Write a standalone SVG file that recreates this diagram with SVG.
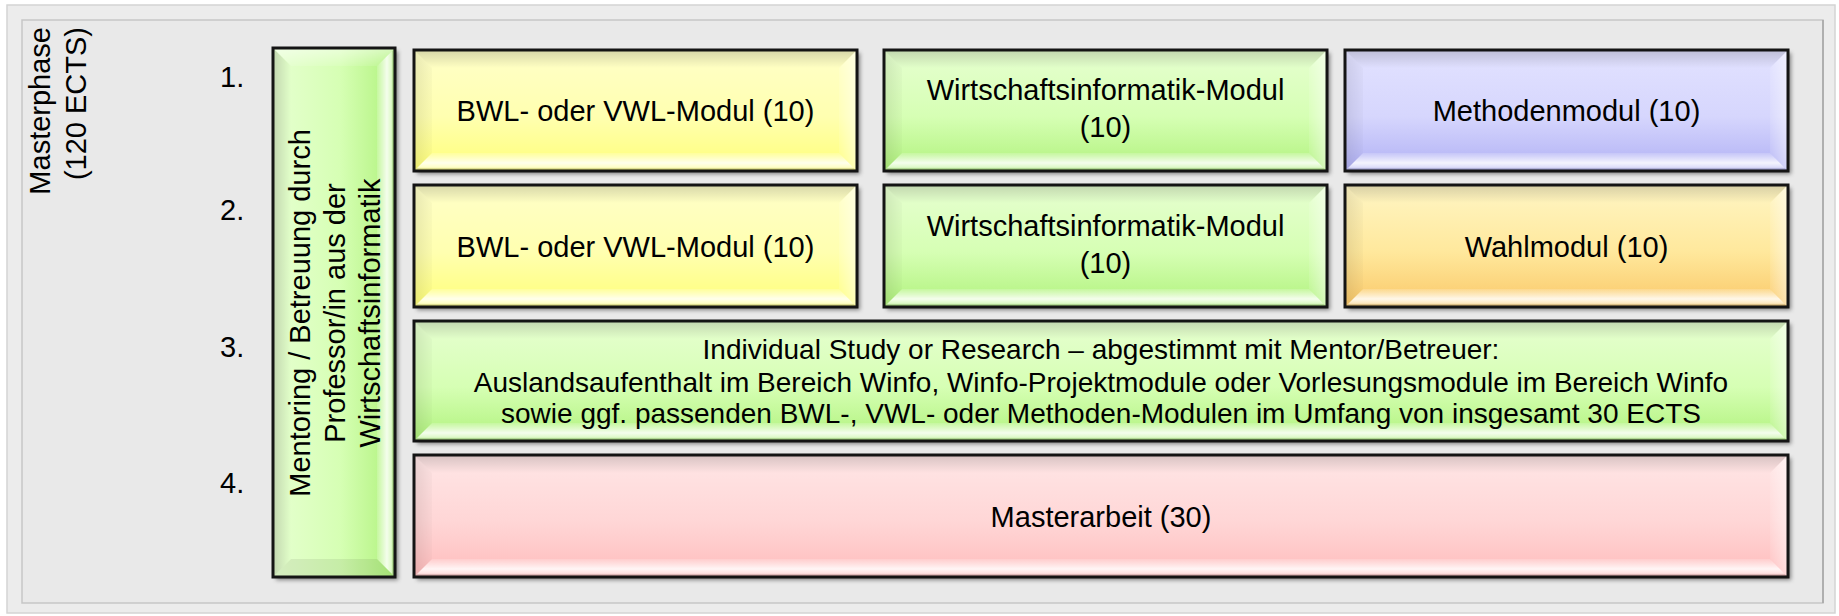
<svg xmlns="http://www.w3.org/2000/svg" width="1839" height="616" viewBox="0 0 1839 616">
<style>
text { font-family: "Liberation Sans", Arial, sans-serif; fill: #000; }
.t29 { font-size: 29px; }
.t28 { font-size: 28px; }
.ol { fill: none; stroke: #141414; stroke-width: 3; }
.sh { filter: url(#shadow); }
.bt { fill: url(#bvTop); }
.bb { fill: url(#bvBot); }
.bl { fill: url(#bvLeft); }
.br { fill: url(#bvRight); }
</style>
<defs>
<filter id="shadow" x="-5%" y="-5%" width="115%" height="120%">
<feDropShadow dx="3" dy="3" stdDeviation="2.2" flood-color="#000" flood-opacity="0.45"/>
</filter>
<linearGradient id="gYellow" x1="0" y1="0" x2="0" y2="1"><stop offset="0" stop-color="#ffffc8"/><stop offset="0.55" stop-color="#ffffb0"/><stop offset="1" stop-color="#ffff78"/></linearGradient>
<linearGradient id="gGreen" x1="0" y1="0" x2="0" y2="1"><stop offset="0" stop-color="#e6ffd0"/><stop offset="0.55" stop-color="#d6ffb4"/><stop offset="1" stop-color="#b0f27c"/></linearGradient>
<linearGradient id="gGreenH" x1="0" y1="0" x2="1" y2="0"><stop offset="0" stop-color="#e6ffd0"/><stop offset="0.55" stop-color="#d6ffb4"/><stop offset="1" stop-color="#b0f27c"/></linearGradient>
<linearGradient id="gBlue" x1="0" y1="0" x2="0" y2="1"><stop offset="0" stop-color="#e2e2ff"/><stop offset="0.55" stop-color="#d6d6fd"/><stop offset="1" stop-color="#b0b0f4"/></linearGradient>
<linearGradient id="gOrange" x1="0" y1="0" x2="0" y2="1"><stop offset="0" stop-color="#fff6c4"/><stop offset="0.55" stop-color="#ffe89c"/><stop offset="1" stop-color="#fac868"/></linearGradient>
<linearGradient id="gPink" x1="0" y1="0" x2="0" y2="1"><stop offset="0" stop-color="#ffe6e6"/><stop offset="0.55" stop-color="#ffd6d6"/><stop offset="1" stop-color="#ffbcbc"/></linearGradient>
<linearGradient id="bvTop" x1="0" y1="0" x2="0" y2="1"><stop offset="0" stop-color="#000" stop-opacity="0.16"/><stop offset="1" stop-color="#000" stop-opacity="0"/></linearGradient>
<linearGradient id="bvBot" x1="0" y1="0" x2="0" y2="1"><stop offset="0" stop-color="#fff" stop-opacity="0.15"/><stop offset="0.55" stop-color="#fff" stop-opacity="0.85"/><stop offset="0.8" stop-color="#fff" stop-opacity="0.55"/><stop offset="1" stop-color="#000" stop-opacity="0.12"/></linearGradient>
<linearGradient id="bvLeft" x1="0" y1="0" x2="1" y2="0"><stop offset="0" stop-color="#000" stop-opacity="0.09"/><stop offset="1" stop-color="#000" stop-opacity="0.02"/></linearGradient>
<linearGradient id="bvRight" x1="0" y1="0" x2="1" y2="0"><stop offset="0" stop-color="#fff" stop-opacity="0.1"/><stop offset="1" stop-color="#fff" stop-opacity="0.5"/></linearGradient>
<linearGradient id="bvTopH" x1="0" y1="0" x2="1" y2="0"><stop offset="0" stop-color="#000" stop-opacity="0.16"/><stop offset="1" stop-color="#000" stop-opacity="0"/></linearGradient>
<linearGradient id="bvBotH" x1="0" y1="0" x2="1" y2="0"><stop offset="0" stop-color="#fff" stop-opacity="0.15"/><stop offset="0.55" stop-color="#fff" stop-opacity="0.85"/><stop offset="0.8" stop-color="#fff" stop-opacity="0.55"/><stop offset="1" stop-color="#000" stop-opacity="0.12"/></linearGradient>
<linearGradient id="bvTopM" x1="0" y1="0" x2="0" y2="1"><stop offset="0" stop-color="#fff" stop-opacity="0.5"/><stop offset="1" stop-color="#fff" stop-opacity="0.1"/></linearGradient>
</defs>

<rect x="0" y="0" width="1839" height="616" fill="#ffffff"/>
<g id="frame">
<rect x="7" y="5" width="1828" height="608" fill="#ececec" stroke="#d4d4d4" stroke-width="1.5"/>
<rect x="22" y="20" width="1801" height="583" fill="#e9e9e9" stroke="#c6c6c6" stroke-width="1.5"/>
<line x1="1823" y1="20" x2="1823" y2="603" stroke="#a4a4a4" stroke-width="1.5"/>
</g>

<g id="phase-label">
<text class="t29" transform="translate(50,27) rotate(-90)" text-anchor="end">Masterphase</text>
<text class="t29" transform="translate(86,27) rotate(-90)" text-anchor="end">(120 ECTS)</text>
</g>

<g id="semester-numbers">
<text class="t29" x="220" y="87">1.</text>
<text class="t29" x="220" y="220">2.</text>
<text class="t29" x="220" y="357">3.</text>
<text class="t29" x="220" y="493">4.</text>
</g>

<g id="mentoring">
<rect class="sh" x="273" y="48" width="122" height="529" fill="url(#gGreenH)"/>
<polygon points="273,48 291,66 291,559 273,577" fill="url(#bvTopH)"/>
<polygon points="395,48 377,66 377,559 395,577" fill="url(#bvBotH)"/>
<polygon points="273,48 395,48 377,66 291,66" fill="url(#bvTopM)"/>
<polygon points="273,577 395,577 377,559 291,559" fill="#000" fill-opacity="0.07"/>
<rect class="ol" x="273" y="48" width="122" height="529"/>
<text class="t29" transform="translate(310,313) rotate(-90)" text-anchor="middle">Mentoring / Betreuung durch</text>
<text class="t29" transform="translate(345,313) rotate(-90)" text-anchor="middle">Professor/in aus der</text>
<text class="t29" transform="translate(380,313) rotate(-90)" text-anchor="middle">Wirtschaftsinformatik</text>
</g>

<g id="bwl1">
<rect class="sh" x="414" y="50" width="443" height="121" fill="url(#gYellow)"/>
<polygon class="bt" points="414,50 857,50 839,68 432,68"/>
<polygon class="bb" points="414,171 857,171 839,153 432,153"/>
<polygon class="bl" points="414,50 432,68 432,153 414,171"/>
<polygon class="br" points="857,50 839,68 839,153 857,171"/>
<rect class="ol" x="414" y="50" width="443" height="121"/>
<text class="t29" x="635.5" y="121" text-anchor="middle">BWL- oder VWL-Modul (10)</text>
</g>

<g id="winfo1">
<rect class="sh" x="884" y="50" width="443" height="121" fill="url(#gGreen)"/>
<polygon class="bt" points="884,50 1327,50 1309,68 902,68"/>
<polygon class="bb" points="884,171 1327,171 1309,153 902,153"/>
<polygon class="bl" points="884,50 902,68 902,153 884,171"/>
<polygon class="br" points="1327,50 1309,68 1309,153 1327,171"/>
<rect class="ol" x="884" y="50" width="443" height="121"/>
<text class="t29" x="1105.5" y="100" text-anchor="middle">Wirtschaftsinformatik-Modul</text>
<text class="t29" x="1105.5" y="137" text-anchor="middle">(10)</text>
</g>

<g id="methoden">
<rect class="sh" x="1345" y="50" width="443" height="121" fill="url(#gBlue)"/>
<polygon class="bt" points="1345,50 1788,50 1770,68 1363,68"/>
<polygon class="bb" points="1345,171 1788,171 1770,153 1363,153"/>
<polygon class="bl" points="1345,50 1363,68 1363,153 1345,171"/>
<polygon class="br" points="1788,50 1770,68 1770,153 1788,171"/>
<rect class="ol" x="1345" y="50" width="443" height="121"/>
<text class="t29" x="1566.5" y="121" text-anchor="middle">Methodenmodul (10)</text>
</g>

<g id="bwl2">
<rect class="sh" x="414" y="185" width="443" height="122" fill="url(#gYellow)"/>
<polygon class="bt" points="414,185 857,185 839,203 432,203"/>
<polygon class="bb" points="414,307 857,307 839,289 432,289"/>
<polygon class="bl" points="414,185 432,203 432,289 414,307"/>
<polygon class="br" points="857,185 839,203 839,289 857,307"/>
<rect class="ol" x="414" y="185" width="443" height="122"/>
<text class="t29" x="635.5" y="256.5" text-anchor="middle">BWL- oder VWL-Modul (10)</text>
</g>

<g id="winfo2">
<rect class="sh" x="884" y="185" width="443" height="122" fill="url(#gGreen)"/>
<polygon class="bt" points="884,185 1327,185 1309,203 902,203"/>
<polygon class="bb" points="884,307 1327,307 1309,289 902,289"/>
<polygon class="bl" points="884,185 902,203 902,289 884,307"/>
<polygon class="br" points="1327,185 1309,203 1309,289 1327,307"/>
<rect class="ol" x="884" y="185" width="443" height="122"/>
<text class="t29" x="1105.5" y="236" text-anchor="middle">Wirtschaftsinformatik-Modul</text>
<text class="t29" x="1105.5" y="273" text-anchor="middle">(10)</text>
</g>

<g id="wahl">
<rect class="sh" x="1345" y="185" width="443" height="122" fill="url(#gOrange)"/>
<polygon class="bt" points="1345,185 1788,185 1770,203 1363,203"/>
<polygon class="bb" points="1345,307 1788,307 1770,289 1363,289"/>
<polygon class="bl" points="1345,185 1363,203 1363,289 1345,307"/>
<polygon class="br" points="1788,185 1770,203 1770,289 1788,307"/>
<rect class="ol" x="1345" y="185" width="443" height="122"/>
<text class="t29" x="1566.5" y="256.5" text-anchor="middle">Wahlmodul (10)</text>
</g>

<g id="individual">
<rect class="sh" x="414" y="321" width="1374" height="120" fill="url(#gGreen)"/>
<polygon class="bt" points="414,321 1788,321 1770,339 432,339"/>
<polygon class="bb" points="414,441 1788,441 1770,423 432,423"/>
<polygon class="bl" points="414,321 432,339 432,423 414,441"/>
<polygon class="br" points="1788,321 1770,339 1770,423 1788,441"/>
<rect class="ol" x="414" y="321" width="1374" height="120"/>
<text class="t28" x="1101" y="359" text-anchor="middle">Individual Study or Research – abgestimmt mit Mentor/Betreuer:</text>
<text class="t28" x="1101" y="392" text-anchor="middle">Auslandsaufenthalt im Bereich Winfo, Winfo-Projektmodule oder Vorlesungsmodule im Bereich Winfo</text>
<text class="t28" x="1101" y="423" text-anchor="middle">sowie ggf. passenden BWL-, VWL- oder Methoden-Modulen im Umfang von insgesamt 30 ECTS</text>
</g>

<g id="masterarbeit">
<rect class="sh" x="414" y="455" width="1374" height="122" fill="url(#gPink)"/>
<polygon class="bt" points="414,455 1788,455 1770,473 432,473"/>
<polygon class="bb" points="414,577 1788,577 1770,559 432,559"/>
<polygon class="bl" points="414,455 432,473 432,559 414,577"/>
<polygon class="br" points="1788,455 1770,473 1770,559 1788,577"/>
<rect class="ol" x="414" y="455" width="1374" height="122"/>
<text class="t29" x="1101" y="526.5" text-anchor="middle">Masterarbeit (30)</text>
</g>

<g id="connectors"></g>
</svg>
